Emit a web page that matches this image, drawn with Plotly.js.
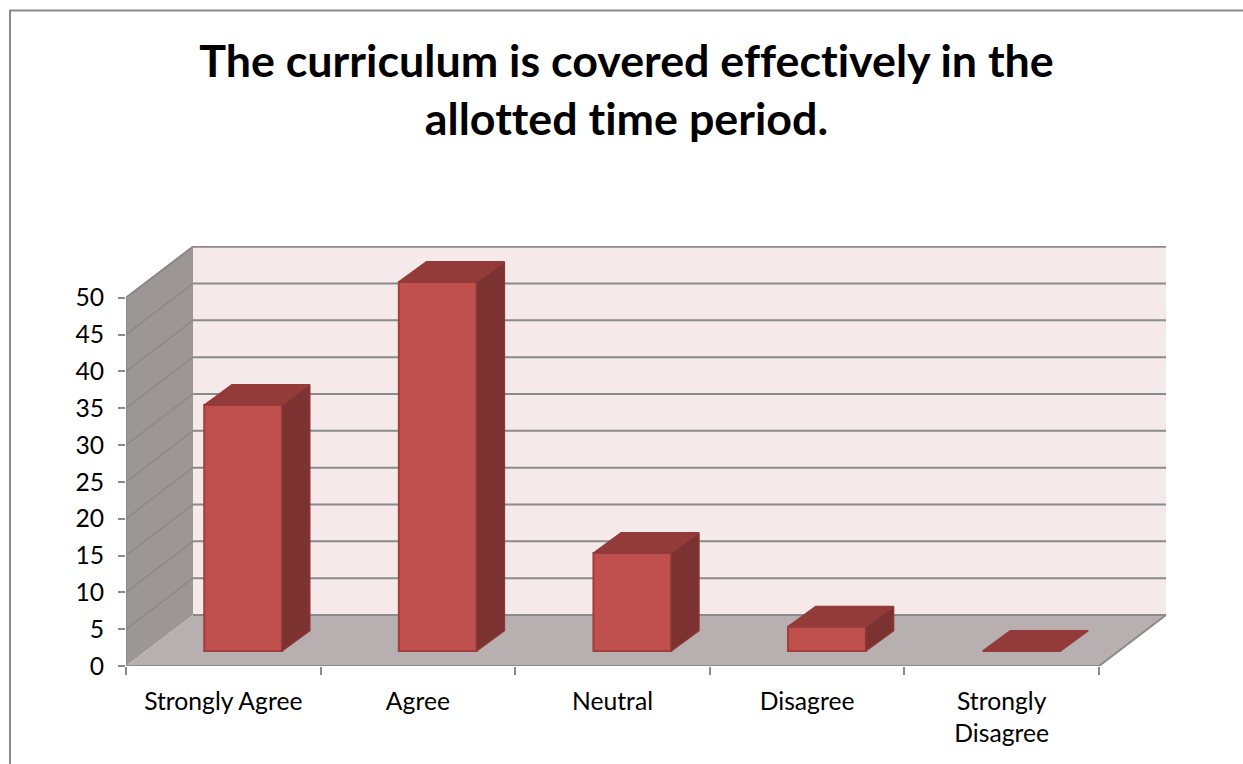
<!DOCTYPE html>
<html><head><meta charset="utf-8">
<script src="https://cdn.plot.ly/plotly-3.0.1.min.js"></script>
<style>html,body{margin:0;padding:0;background:#fff;overflow:hidden}#c{width:1243px;height:764px}
svg text{font-variant-ligatures:none;font-feature-settings:"liga" 0}</style>
</head><body><div id="c"></div>
<script>
const categories = ['Strongly Agree','Agree','Neutral','Disagree','Strongly<br>Disagree'];
const values = [33.4,50.1,13.3,3.3,0];
const yTicks = [0,5,10,15,20,25,30,35,40,45,50];
const chartTitle = 'The curriculum is covered effectively in the<br>allotted time period.';

const W=1243,H=764,L=126,R=1167,T=246,B=666;
const dpX=(1099-126)/5, dpY=(666-297.7)/50;
const wallDX=67/dpX, wallDY=51/dpY;
const barW=0.4, barShift=0.102, barBase=15/dpY, sideDX=27.7/dpX, sideDY=20.3/dpY;
const xs=categories.map((_,i)=>i);
const GRID='#8a8a8a';
const f={family:'Lato, Carlito, sans-serif',size:24.7,color:'#000'};

const shapes=[];
const poly=(pts,fill)=>shapes.push({type:'path',xref:'x',yref:'y',layer:'below',
  path:'M'+pts.map(p=>p.join(',')).join('L')+'Z',fillcolor:fill,line:{width:0}});
const xa=-0.5,xb=4.5;
poly([[xa,0],[xa+wallDX,wallDY],[xa+wallDX,50+wallDY],[xa,50]],'#9c9695');
poly([[xa,0],[xb,0],[xb+wallDX,wallDY],[xa+wallDX,wallDY]],'#b8b0b0');
poly([[xa+wallDX,wallDY],[xb+wallDX,wallDY],[xb+wallDX,50+wallDY],[xa+wallDX,50+wallDY]],'#f5e9e9');
yTicks.forEach(v=>{
  shapes.push({type:'line',xref:'x',yref:'y',layer:'below',x0:xa+wallDX,x1:xb+wallDX,y0:v+wallDY,y1:v+wallDY,line:{color:GRID,width:2}});
  if(v>0) shapes.push({type:'line',xref:'x',yref:'y',layer:'below',x0:xa,x1:xa+wallDX,y0:v,y1:v+wallDY,line:{color:GRID,width:1.5}});
});
// chart frame: only top and left edges are visible in the reference
const px=x=>(x-L)/(R-L), py=y=>(B-y)/(B-T);
shapes.push({type:'path',xref:'paper',yref:'paper',layer:'below',
  path:`M${px(10)},${py(764)}L${px(10)},${py(10.5)}L${px(1243)},${py(10.5)}`,line:{color:'#8a8a8a',width:2}});

const traces=[];
traces.push({type:'bar',x:xs.map(i=>i+barShift),y:values,base:values.map(()=>barBase),width:barW,
  marker:{color:'#c0504d',line:{color:'#a13f3d',width:2}},hoverinfo:'skip',xaxis:'x',yaxis:'y',showlegend:false});
const polyTrace=(xv,yv,fill,line)=>({type:'scatter',mode:'lines',x:xv,y:yv,fill:'toself',fillcolor:fill,
  line:{color:line,width:1.5},hoverinfo:'skip',showlegend:false,xaxis:'x',yaxis:'y'});
values.forEach((v,i)=>{
  const x0=i+barShift-barW/2,x1=i+barShift+barW/2,b=barBase,t=barBase+v;
  if(v>0) traces.push(polyTrace([x1,x1+sideDX,x1+sideDX,x1,x1],[b,b+sideDY,t+sideDY,t,b],'#7c3230','#8a3735'));
  traces.push(polyTrace([x0,x1,x1+sideDX,x0+sideDX,x0],[t,t,t+sideDY,t+sideDY,t],'#933b39','#933b39'));
});
// floor edges and axis lines, unclipped so that they are drawn at full width
const edge=(xv,yv)=>({type:'scatter',mode:'lines',x:xv,y:yv,line:{color:GRID,width:2},cliponaxis:false,
  hoverinfo:'skip',showlegend:false,xaxis:'x',yaxis:'y'});
traces.push(edge([xa,xb,xb+wallDX],[0,0,wallDY]));
traces.push(edge([xa,xa,xa+wallDX],[0,50,50+wallDY]));
// invisible trace carrying the category axis
traces.push({type:'scatter',mode:'markers',x:xs,y:values,marker:{opacity:0},hoverinfo:'skip',showlegend:false,xaxis:'x2',yaxis:'y'});

const xRange=[-0.5,4.5+(R-1099)/dpX];
const boundaries=[-0.5,0.5,1.5,2.5,3.5,4.5];
Plotly.newPlot('c',traces,{
  width:W,height:H,paper_bgcolor:'#fff',plot_bgcolor:'rgba(0,0,0,0)',showlegend:false,
  margin:{l:L,r:W-R,t:T,b:H-B,pad:0},
  title:{text:chartTitle,font:{family:f.family,size:44.8,color:'#000',weight:700},
    x:626.5/W,xanchor:'center',y:1-77/H,yanchor:'top'},
  xaxis:{range:xRange,tickmode:'array',tickvals:boundaries,ticktext:boundaries.map(()=>''),ticks:'outside',ticklen:8,tickcolor:GRID,tickwidth:2,
    showgrid:false,zeroline:false,showline:false},
  xaxis2:{overlaying:'x',side:'bottom',anchor:'y',range:xRange,tickmode:'array',tickvals:xs,ticktext:categories,ticks:'',
    tickangle:0,tickfont:f,ticklabelstandoff:18,showgrid:false,zeroline:false,showline:false},
  yaxis:{range:[0,(B-T)/dpY],tickmode:'array',tickvals:yTicks,ticktext:yTicks.map(String),ticks:'outside',ticklen:7,tickcolor:GRID,tickwidth:2,
    tickfont:f,ticklabelstandoff:9,showgrid:false,zeroline:false,showline:false},
  shapes:shapes
},{displayModeBar:false,staticPlot:true});
</script></body></html>
